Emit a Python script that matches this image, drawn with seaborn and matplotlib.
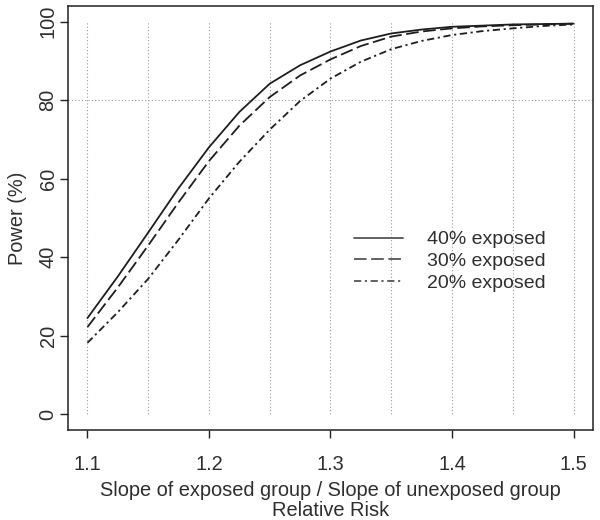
import matplotlib
matplotlib.use("Agg")
import matplotlib.pyplot as plt
import pandas as pd
import seaborn as sns
import numpy as np

# --- data ---
relative_risk = [1.100, 1.125, 1.150, 1.175, 1.200, 1.225, 1.250, 1.275, 1.300,
                 1.325, 1.350, 1.375, 1.400, 1.425, 1.450, 1.475, 1.500]
power_40 = [24.5, 35.1, 46.3, 57.6, 68.0, 77.0, 84.2, 88.9, 92.4,
            95.2, 97.0, 98.0, 98.7, 99.0, 99.3, 99.4, 99.5]
power_30 = [22.2, 32.3, 43.0, 54.0, 64.5, 73.5, 80.8, 86.3, 90.4,
            93.8, 96.2, 97.5, 98.3, 98.8, 99.1, 99.3, 99.5]
power_20 = [18.2, 26.0, 34.5, 44.5, 55.0, 64.3, 72.5, 79.8, 85.5,
            89.8, 93.0, 95.1, 96.6, 97.6, 98.3, 98.9, 99.3]
group_labels = ["40% exposed", "30% exposed", "20% exposed"]

df = pd.DataFrame({
    "rr": relative_risk * 3,
    "power": power_40 + power_30 + power_20,
    "group": [g for g in group_labels for _ in relative_risk],
})

sns.set_style("ticks")
plt.rcParams["font.family"] = ["Liberation Sans", "DejaVu Sans"]
txt = "#2e2e2e"
fs = 14.4

fig = plt.figure(figsize=(6, 5.2), dpi=100)
ax = fig.add_axes([0.1133, 0.1731, 0.875, 0.8154])

# R-style dotted reference grid
ax.vlines(np.arange(1.1, 1.5001, 0.05), 0, 100, colors="#9a9a9a",
          linestyles=(0, (1, 2)), linewidth=0.8, zorder=1)
ax.axhline(80, color="#9a9a9a", linestyle=(0, (1, 2)), linewidth=0.8, zorder=1)

sns.lineplot(data=df, x="rr", y="power", hue="group", style="group",
             hue_order=group_labels, style_order=group_labels,
             palette=["#1e1e1e"] * 3,
             dashes=["", (7, 2.5), (4, 2, 1.2, 2)],
             linewidth=1.3, ax=ax, zorder=3)

ax.set_xlim(1.084, 1.516)
ax.set_ylim(-4, 104)
ax.set_xticks([1.1, 1.2, 1.3, 1.4, 1.5])
ax.set_yticks([0, 20, 40, 60, 80, 100])
ax.tick_params(axis="both", direction="out", length=6, width=1, labelsize=fs,
               colors="#222222", labelcolor=txt)
ax.tick_params(axis="x", pad=12)
ax.tick_params(axis="y", pad=1.5)
for lab in ax.get_yticklabels():
    lab.set_rotation(90)
    lab.set_va("center")
for sp in ax.spines.values():
    sp.set_visible(True)
    sp.set_color("#222222")
    sp.set_linewidth(1.1)

ax.set_xlabel("Slope of exposed group / Slope of unexposed group\nRelative Risk",
              fontsize=fs, color=txt, labelpad=5, linespacing=1.05)
ax.set_ylabel("Power (%)", fontsize=fs, color=txt, labelpad=8)

leg = ax.legend(loc="upper left", bbox_to_anchor=(0.545, 0.470), frameon=False,
                fontsize=14, handlelength=2.5, handletextpad=1.25,
                labelspacing=0.22, borderaxespad=0, borderpad=0,
                labelcolor=txt)
for h in leg.get_lines():
    h.set_color("#555555")

fig.savefig("out.png", dpi=100)
